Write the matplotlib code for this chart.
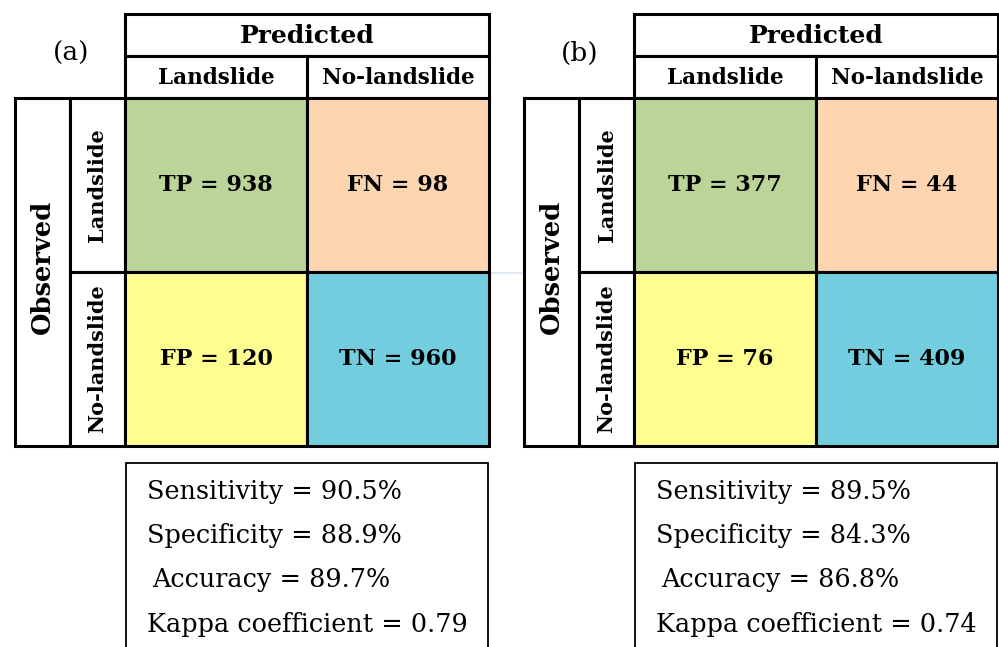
import matplotlib.pyplot as plt
from matplotlib.patches import Rectangle

# confusion matrix counts, panel (a) and panel (b)
panel_labels = ["(a)", "(b)"]
tp = [938, 377]
fn = [98, 44]
fp = [120, 76]
tn = [960, 409]

# summary metrics
sensitivity = [90.5, 89.5]
specificity = [88.9, 84.3]
accuracy = [89.7, 86.8]
kappa = [0.79, 0.74]

class_names = ["Landslide", "No-landslide"]
cell_colors = [["#bad597", "#fdd5b1"], ["#fffd8f", "#72cddf"]]

SERIF = "DejaVu Serif"
LW = 2.2

fig = plt.figure(figsize=(9.99, 6.47), dpi=100)
ax = fig.add_axes([0, 0, 1, 1])
ax.set_xlim(0, 999)
ax.set_ylim(647, 0)
ax.axis("off")


def box(x0, y0, w, h, color="white", lw=LW):
    ax.add_patch(Rectangle((x0, y0), w, h, facecolor=color, edgecolor="black", linewidth=lw))


def draw_panel(i, x0):
    # geometry (pixels) of one confusion-matrix panel
    obs_w, cls_w, cell_w = 55, 55, 182
    top, head_h, sub_h, cell_h = 14, 42, 42, 174
    gx = x0 + obs_w + cls_w
    gy = top + head_h + sub_h

    # predicted header
    box(gx, top, 2 * cell_w, head_h)
    ax.text(gx + cell_w, top + head_h / 2 + 1, "Predicted", family=SERIF, fontweight="bold",
            fontsize=18, ha="center", va="center")
    for j, name in enumerate(class_names):
        box(gx + j * cell_w, top + head_h, cell_w, sub_h)
        ax.text(gx + j * cell_w + cell_w / 2, top + head_h + sub_h / 2 + 1, name, family=SERIF,
                fontweight="bold", fontsize=15.5, ha="center", va="center")

    # observed header
    box(x0, gy, obs_w, 2 * cell_h)
    ax.text(x0 + obs_w / 2, gy + cell_h - 5, "Observed", family=SERIF, fontweight="bold",
            fontsize=18.5, ha="center", va="center", rotation=90)
    for r, name in enumerate(class_names):
        box(x0 + obs_w, gy + r * cell_h, cls_w, cell_h)
        ax.text(x0 + obs_w + cls_w / 2, gy + r * cell_h + cell_h / 2, name, family=SERIF,
                fontweight="bold", fontsize=15, ha="center", va="center", rotation=90)

    # matrix cells
    values = [[f"TP = {tp[i]}", f"FN = {fn[i]}"], [f"FP = {fp[i]}", f"TN = {tn[i]}"]]
    for r in range(2):
        for c in range(2):
            box(gx + c * cell_w, gy + r * cell_h, cell_w, cell_h, color=cell_colors[r][c])
            ax.text(gx + c * cell_w + cell_w / 2, gy + r * cell_h + cell_h / 2, values[r][c],
                    family=SERIF, fontweight="bold", fontsize=16, ha="center", va="center")

    # panel tag
    ax.text(x0 + 56, top + head_h - 3, panel_labels[i], family=SERIF, fontsize=19,
            ha="center", va="center")

    # metrics box (runs off the bottom edge)
    by = 463
    box(gx + 1, by, 2 * cell_w - 2, 200, lw=1.3)
    lines = [
        f"Sensitivity = {sensitivity[i]}%",
        f"Specificity = {specificity[i]}%",
        f"Accuracy = {accuracy[i]}%",
        f"Kappa coefficient = {kappa[i]:.2f}",
    ]
    offs = [0, 0, 5, 0]
    for k, (line, dx) in enumerate(zip(lines, offs)):
        ax.text(gx + 22 + dx, 491 + k * 44.5, line, family=SERIF, fontsize=18.4,
                ha="left", va="center")


draw_panel(0, 15)
draw_panel(1, 524)

# faint guide line visible between the panels
ax.plot([490, 524], [273, 273], color="#dbe5f1", linewidth=1.2, zorder=0)

fig.savefig("out.png", dpi=100)
